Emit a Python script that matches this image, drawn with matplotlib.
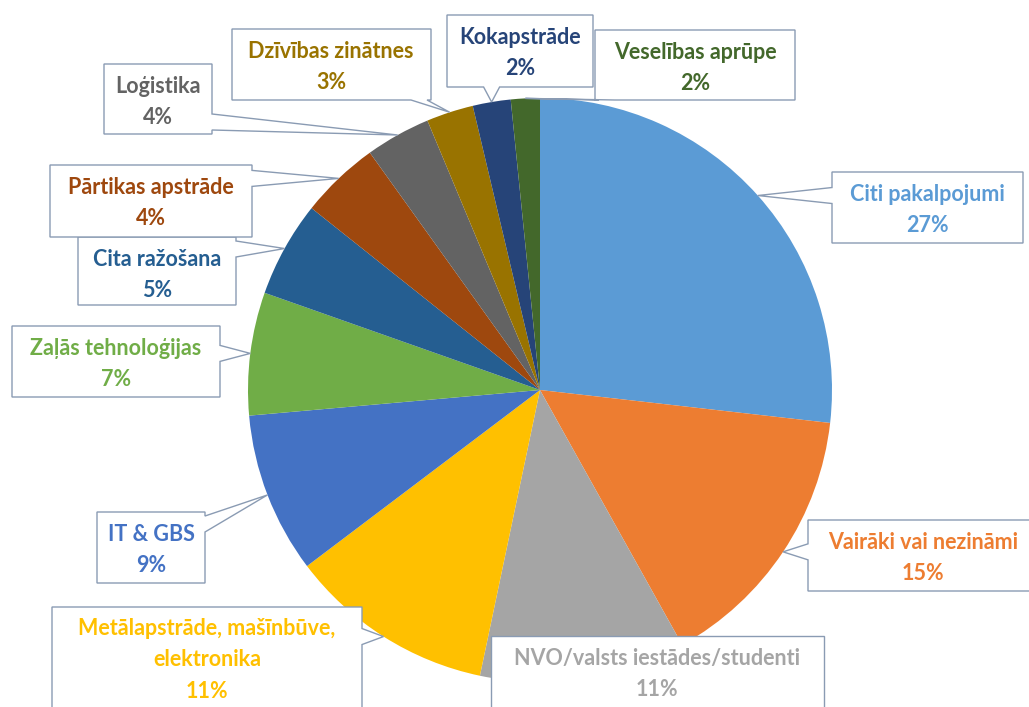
import numpy as np
import matplotlib.pyplot as plt
from matplotlib.patches import Polygon

# Sector shares (%), clockwise from 12 o'clock
sectors = ['Citi pakalpojumi', 'Vairāki vai nezināmi', 'NVO/valsts iestādes/studenti',
           'Metālapstrāde, mašīnbūve,\nelektronika', 'IT & GBS', 'Zaļās tehnoloģijas',
           'Cita ražošana', 'Pārtikas apstrāde', 'Loģistika', 'Dzīvības zinātnes',
           'Kokapstrāde', 'Veselības aprūpe']
shares = [26.8, 15.1, 11.4, 11.4, 8.9, 6.8, 5.3, 4.4, 3.6, 2.6, 2.1, 1.6]
pct_labels = ['27%', '15%', '11%', '11%', '9%', '7%', '5%', '4%', '4%', '3%', '2%', '2%']
colors = ['#5B9BD5', '#ED7D31', '#A5A5A5', '#FFC000', '#4472C4', '#70AD47',
          '#255E91', '#9E480E', '#636363', '#997300', '#264478', '#43682B']

# label boxes in pixel coords (x0, y0 top, x1, y1 bottom), pointer side, text centre x
boxes = [(832, 172, 1023, 243, 'left', 927), (808, 520, 1045, 591, 'left', 923),
         (491, 636, 824, 712, None, 657), (52, 607, 362, 712, 'right', 207),
         (97, 512, 205, 583, 'right', 151), (12, 326, 220, 397, 'right', 116),
         (78, 237, 236, 305, 'right', 157), (50, 165, 252, 237, 'right', 151),
         (104, 64, 212, 134, 'right', 158), (232, 29, 431, 100, 'bottom', 331),
         (447, 15, 593, 87, 'bottom', 520), (595, 30, 795, 100, 'bottom', 695)]

W, H = 1029, 707
cx, cy, r = 540, 390, 292

fig = plt.figure(figsize=(W / 100, H / 100), dpi=100)
ax = fig.add_axes([0, 0, 1, 1])

wedges, _ = ax.pie(shares, colors=colors, startangle=90, counterclock=False,
                   center=(cx, H - cy), radius=r, frame=True,
                   wedgeprops=dict(linewidth=0))
ax.set_xlim(0, W)
ax.set_ylim(0, H)
ax.set_aspect('equal')
ax.axis('off')

edge = '#8A9BB3'
for w, name, pct, col, (x0, y0, x1, y1, side, xc) in zip(wedges, sectors, pct_labels, colors, boxes):
    ang = np.deg2rad((w.theta1 + w.theta2) / 2)
    tx = cx + r * np.cos(ang)
    ty = cy - r * np.sin(ang)
    hw = 8
    if side == 'right':
        b = min(max(ty, y0 + hw + 4), y1 - hw - 4)
        pts = [(x0, y0), (x1, y0), (x1, b - hw), (tx, ty), (x1, b + hw), (x1, y1), (x0, y1)]
    elif side == 'left':
        b = min(max(ty, y0 + hw + 4), y1 - hw - 4)
        pts = [(x0, y0), (x1, y0), (x1, y1), (x0, y1), (x0, b + hw), (tx, ty), (x0, b - hw)]
    elif side == 'bottom':
        b = min(max(tx, x0 + hw + 4), x1 - hw - 4)
        pts = [(x0, y0), (x1, y0), (x1, y1), (b + hw, y1), (tx, ty), (b - hw, y1), (x0, y1)]
    else:
        pts = [(x0, y0), (x1, y0), (x1, y1), (x0, y1)]
    ax.add_patch(Polygon([(px, H - py) for px, py in pts], closed=True,
                         facecolor='white', edgecolor=edge, linewidth=1.0, zorder=5))
    yc = y0 + 53 if '\n' in name else y0 + 38
    ax.text(xc, H - yc, name + '\n' + pct, ha='center', va='center', color=col,
            fontsize=15.5, fontweight='bold', family='Lato', linespacing=1.6, zorder=6)

fig.savefig('out.png', dpi=100)
